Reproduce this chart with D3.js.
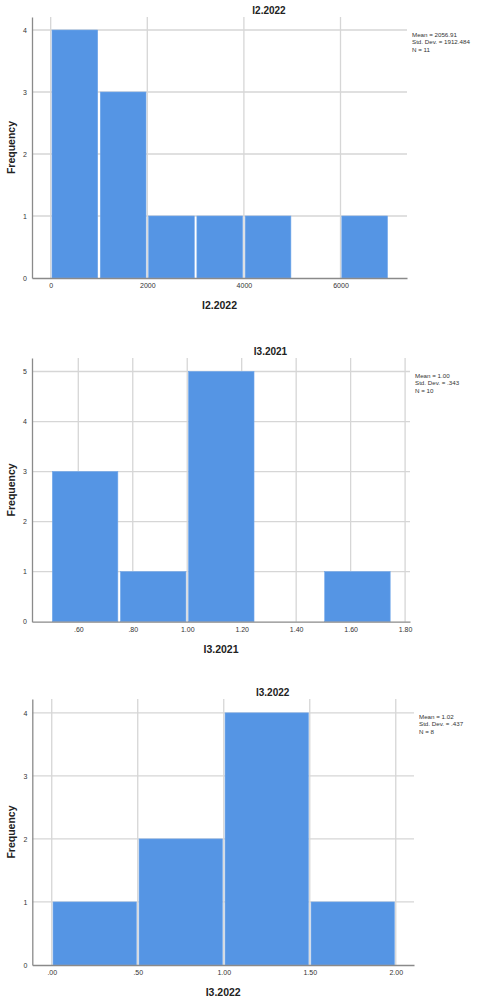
<!DOCTYPE html>
<html>
<head>
<meta charset="utf-8">
<script src="https://cdn.jsdelivr.net/npm/d3@7"></script>
<style>
  body { margin: 0; background: #fff; }
  svg { display: block; font-family: "Liberation Sans", Arial, sans-serif; }
</style>
</head>
<body>
<svg id="chart"></svg>
<script>
// histogram 1: I2.2022
const i2022Bins = [[0, 1000], [1000, 2000], [2000, 3000], [3000, 4000], [4000, 5000], [6000, 7000]];
const i2022Counts = [4, 3, 1, 1, 1, 1];
const i2022XTicks = [0, 2000, 4000, 6000];
const i2022Stats = ["Mean = 2056.91", "Std. Dev. = 1912.484", "N = 11"];

// histogram 2: I3.2021
const i32021Bins = [[0.5, 0.75], [0.75, 1.0], [1.0, 1.25], [1.5, 1.75]];
const i32021Counts = [3, 1, 5, 1];
const i32021XTicks = [0.6, 0.8, 1.0, 1.2, 1.4, 1.6, 1.8];
const i32021Stats = ["Mean = 1.00", "Std. Dev. = .343", "N = 10"];

// histogram 3: I3.2022
const i32022Bins = [[0, 0.5], [0.5, 1.0], [1.0, 1.5], [1.5, 2.0]];
const i32022Counts = [1, 2, 4, 1];
const i32022XTicks = [0, 0.5, 1.0, 1.5, 2.0];
const i32022Stats = ["Mean = 1.02", "Std. Dev. = .437", "N = 8"];

const width = 480;
const height = 1002;

const spssDec = (v) => d3.format(".2f")(v).replace(/^0\./, ".");

const charts = [
  { title: "I2.2022", bins: i2022Bins, counts: i2022Counts, xTicks: i2022XTicks, stats: i2022Stats,
    xDomain: [-387, 7377], yMax: 4.21, fmt: d3.format("d"),
    left: 32, right: 407, top: 17, bottom: 278 },
  { title: "I3.2021", bins: i32021Bins, counts: i32021Counts, xTicks: i32021XTicks, stats: i32021Stats,
    xDomain: [0.43, 1.818], yMax: 5.27, fmt: spssDec,
    left: 32, right: 410, top: 358, bottom: 621.7 },
  { title: "I3.2022", bins: i32022Bins, counts: i32022Counts, xTicks: i32022XTicks, stats: i32022Stats,
    xDomain: [-0.113, 2.106], yMax: 4.22, fmt: spssDec,
    left: 32.3, right: 414, top: 699, bottom: 965 }
];

const svg = d3.select("#chart").attr("width", width).attr("height", height);

charts.forEach((c) => {
  const g = svg.append("g");

  const x = d3.scaleLinear().domain(c.xDomain).range([c.left, c.right]);
  const y = d3.scaleLinear().domain([0, c.yMax]).range([c.bottom, c.top]);
  const yTicks = d3.range(0, Math.floor(c.yMax) + 1);

  // gridlines
  g.selectAll(".hgrid")
    .data(yTicks.filter((d) => d > 0))
    .enter()
    .append("line")
    .attr("x1", c.left)
    .attr("x2", c.right)
    .attr("y1", (d) => y(d))
    .attr("y2", (d) => y(d))
    .attr("stroke", "#d6d6d6")
    .attr("stroke-width", 1.3);

  g.selectAll(".vgrid")
    .data(c.xTicks)
    .enter()
    .append("line")
    .attr("x1", (d) => x(d))
    .attr("x2", (d) => x(d))
    .attr("y1", c.top)
    .attr("y2", c.bottom)
    .attr("stroke", "#d6d6d6")
    .attr("stroke-width", 1.3);

  // bars
  g.selectAll("rect")
    .data(c.bins.map((b, i) => ({ x0: b[0], x1: b[1], n: c.counts[i] })))
    .enter()
    .append("rect")
    .attr("x", (d) => x(d.x0) + 1.3)
    .attr("width", (d) => x(d.x1) - x(d.x0) - 2.6)
    .attr("y", (d) => y(d.n))
    .attr("height", (d) => y(0) - y(d.n))
    .attr("fill", "#5595e4")
    .attr("stroke", "#6fa6ea")
    .attr("stroke-width", 0.6);

  // axes
  const xAxis = d3.axisBottom(x).tickValues(c.xTicks).tickFormat(c.fmt).tickSize(0).tickPadding(5.5);
  const gx = g.append("g").attr("transform", `translate(0,${c.bottom})`).call(xAxis);
  gx.select(".domain").attr("stroke", "#8a8a8a").attr("stroke-width", 1.3);
  gx.selectAll("text").attr("font-size", 7).attr("fill", "#333").attr("font-family", "Liberation Sans, Arial, sans-serif");

  const yAxis = d3.axisLeft(y).tickValues(yTicks).tickFormat(d3.format("d")).tickSize(0).tickPadding(5);
  const gy = g.append("g").attr("transform", `translate(${c.left},0)`).call(yAxis);
  gy.select(".domain").attr("stroke", "#8a8a8a").attr("stroke-width", 1.3);
  gy.selectAll("text").attr("font-size", 7).attr("fill", "#333").attr("font-family", "Liberation Sans, Arial, sans-serif");

  // titles
  g.append("text")
    .attr("x", (c.left + c.right + 99) / 2)
    .attr("y", c.top - 3.5)
    .attr("text-anchor", "middle")
    .attr("font-size", 10)
    .attr("font-weight", "bold")
    .attr("fill", "#222")
    .text(c.title);

  g.append("text")
    .attr("x", (c.left + c.right) / 2)
    .attr("y", c.bottom + 31)
    .attr("text-anchor", "middle")
    .attr("font-size", 10.5)
    .attr("font-weight", "bold")
    .attr("fill", "#222")
    .text(c.title);

  g.append("text")
    .attr("transform", `translate(14.5,${(c.top + c.bottom) / 2}) rotate(-90)`)
    .attr("text-anchor", "middle")
    .attr("font-size", 10.5)
    .attr("font-weight", "bold")
    .attr("fill", "#222")
    .text("Frequency");

  // stats box
  g.selectAll(".stat")
    .data(c.stats)
    .enter()
    .append("text")
    .attr("x", c.right + 5)
    .attr("y", (d, i) => c.top + 20 + i * 7.3)
    .attr("font-size", 6.2)
    .attr("fill", "#333")
    .text((d) => d);
});
</script>
</body>
</html>
